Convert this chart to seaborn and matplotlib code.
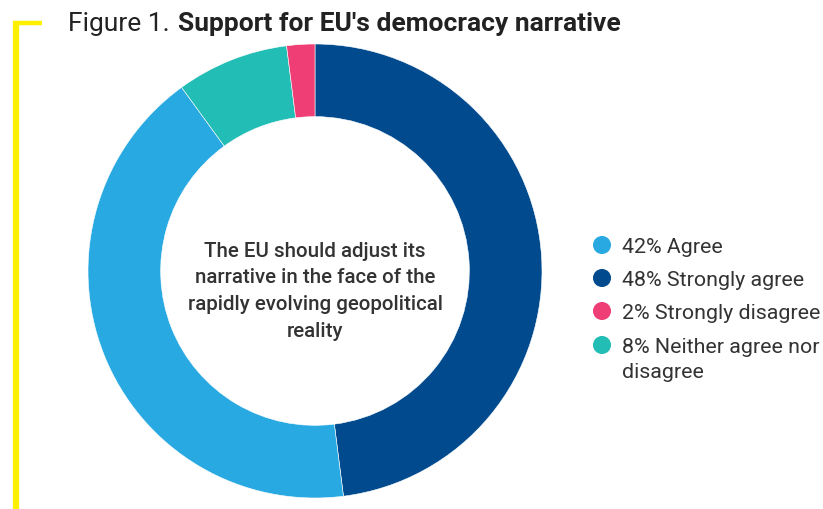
import matplotlib
matplotlib.use("Agg")
import matplotlib.pyplot as plt
import seaborn as sns
from matplotlib.lines import Line2D

sns.set_theme(style="white")
plt.rcParams['font.family'] = ['Roboto', 'DejaVu Sans']

# Data (clockwise from 12 o'clock)
pie_labels = ["Strongly agree", "Agree", "Neither agree nor disagree", "Strongly disagree"]
pie_values = [48, 42, 8, 2]
pie_colors = ["#004A8D", "#29A9E1", "#22BDB4", "#EF3D76"]

legend_order = ["Agree", "Strongly agree", "Strongly disagree", "Neither agree nor disagree"]
legend_texts = ["42% Agree", "48% Strongly agree", "2% Strongly disagree", "8% Neither agree nor\ndisagree"]

center_text = "The EU should adjust its\nnarrative in the face of the\nrapidly evolving geopolitical\nreality"

W, H = 823, 510
fig = plt.figure(figsize=(W / 100, H / 100), dpi=100)
fig.patch.set_facecolor("white")

# donut axes
cx, cy, r = 315, 272, 227
ax = fig.add_axes([(cx - r) / W, (H - cy - r) / H, 2 * r / W, 2 * r / H])
ax.pie(pie_values, colors=pie_colors, startangle=90, counterclock=False,
       radius=1, wedgeprops=dict(width=0.32, edgecolor="white", linewidth=0.4))
ax.set_xlim(-1, 1)
ax.set_ylim(-1, 1)
ax.set_aspect("equal")
ax.axis("off")
ax.text(0, -0.085, center_text, ha="center", va="center", fontsize=14.8,
        fontweight="medium", color="#333333", linespacing=1.52)

# overlay axes in pixel coordinates for legend & decorations
ov = fig.add_axes([0, 0, 1, 1], facecolor="none")
ov.set_xlim(0, W)
ov.set_ylim(H, 0)
ov.axis("off")

col = dict(zip(pie_labels, pie_colors))
row_y = [246, 279, 312, 346]
for k, txt, y in zip(legend_order, legend_texts, row_y):
    ov.scatter([602], [y], s=13 ** 2, color=col[k], edgecolor="none", zorder=3)
    ov.text(622, y - 8, txt, ha="left", va="top", fontsize=15.4,
            color="#333333", linespacing=1.42)

# title
ov.text(68, 31, "Figure 1.", fontsize=19, color="#222222", va="baseline", ha="left")
ov.text(178, 31, "Support for EU's democracy narrative", fontsize=19,
        fontweight="bold", color="#222222", va="baseline", ha="left")

# yellow bracket
yel = "#FFF000"
ov.plot([16, 16], [22, H], color=yel, linewidth=4.5, solid_capstyle="butt")
ov.plot([13, 42], [24, 24], color=yel, linewidth=3.2, solid_capstyle="butt")

fig.savefig("out.png", dpi=100, facecolor="white")
